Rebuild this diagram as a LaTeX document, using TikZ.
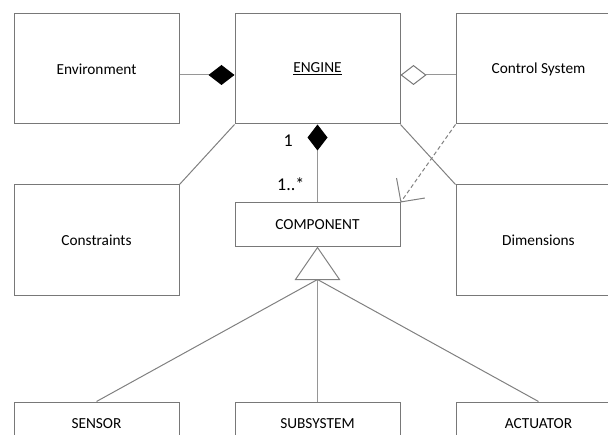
\documentclass[tikz,border=0pt]{standalone}
\usepackage{fontspec}
\setmainfont{Carlito}
\usetikzlibrary{positioning,arrows.meta}
\definecolor{BoxGray}{RGB}{120,120,120}
\definecolor{LinkGray}{RGB}{150,150,150}

\begin{document}
\begin{tikzpicture}[x=0.75pt, y=-0.75pt,
  every node/.style={align=center, font=\fontsize{11.5}{14}\selectfont},
  bigbox/.style={draw=BoxGray, line width=0.75pt, minimum width=123.75pt, minimum height=82.5pt},
  smallbox/.style={draw=BoxGray, line width=0.75pt, minimum width=123.75pt, minimum height=33pt},
  link/.style={draw=LinkGray, line width=0.75pt},
  mult/.style={font=\fontsize{13.5}{16}\selectfont, inner sep=1pt}]
\useasboundingbox (0,0) rectangle (608,435);
\clip (0,0) rectangle (608,435);
\node[bigbox] (env) at (96.5,69) {Environment};
\node[bigbox, right=41.25pt of env] (eng) {\underline{ENGINE}};
\node[bigbox, right=41.25pt of eng] (ctl) {Control System};
\node[bigbox, below=45pt of env] (con) {Constraints};
\node[bigbox, below=45pt of ctl] (dim) {Dimensions};
\node[smallbox, below=58.5pt of eng] (comp) {COMPONENT};
\node[smallbox, below=79.5pt of con] (sen) {SENSOR};
\node[smallbox, right=41.25pt of sen] (sub) {SUBSYSTEM};
\node[smallbox, right=41.25pt of sub] (act) {ACTUATOR};
\node[mult] (one) at ([xshift=-22pt,yshift=-12pt]eng.south) {1};
\node[mult] (many) at ([xshift=-20pt,yshift=13.5pt]comp.north) {1..*};
% associations
\draw[link, -{Diamond[length=19.5pt,width=15pt,color=black,fill=black]}] ([yshift=-4.5pt]env.east) -- ([yshift=-4.5pt]eng.west);
\draw[link, {Diamond[open,length=19.5pt,width=15pt,color=BoxGray]}-] ([yshift=-4.5pt]eng.east) -- ([yshift=-4.5pt]ctl.west);
\draw[link, {Diamond[length=19.5pt,width=15pt,color=black,fill=black]}-] (eng.south) -- (comp.north);
\draw[link, draw=gray] (eng.south west) -- (con.north east);
\draw[link, draw=gray] (eng.south east) -- (dim.north west);
\draw[link, draw=gray, dash pattern=on 3pt off 2pt, -{Straight Barb[length=12.75pt,width=26pt]}] (ctl.south west) -- (comp.north east);
% generalisation
\draw[link, draw=gray] (comp.south) -- ++(-22,32) -- ++(44,0) -- cycle;
\coordinate (gen) at ([yshift=-24pt]comp.south);
\draw[link, draw=gray] (gen) -- (sen.north);
\draw[link] (gen) -- (sub.north);
\draw[link, draw=gray] (gen) -- (act.north);
\end{tikzpicture}
\end{document}
